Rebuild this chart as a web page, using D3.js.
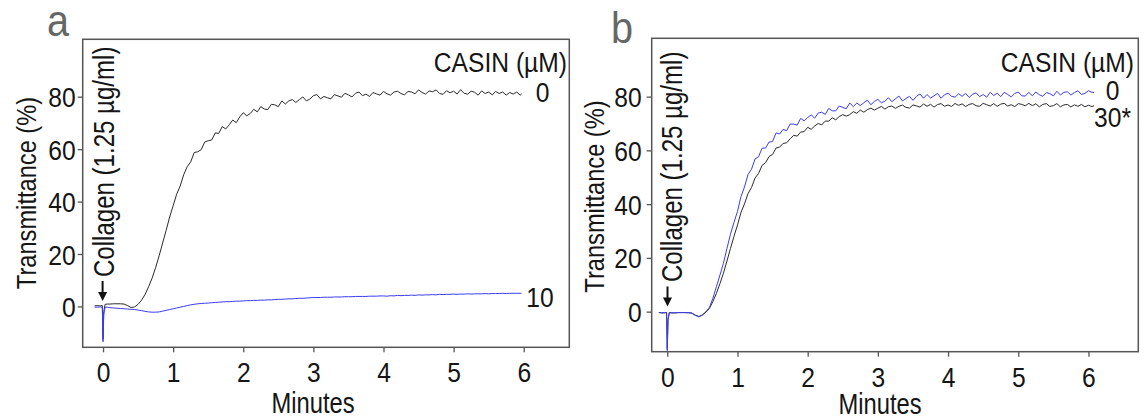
<!DOCTYPE html>
<html><head><meta charset="utf-8">
<script src="https://cdn.jsdelivr.net/npm/d3@7/dist/d3.min.js"></script>
<style>
html,body{margin:0;padding:0;background:#fff;}
svg text{font-family:"Liberation Sans Narrow","Arial Narrow","Liberation Sans",Arial,sans-serif;fill:#151515;}
</style></head>
<body><svg id="chart" width="1146" height="420"></svg>
<script>
// ---------- DATA ----------
const xTicks = [0, 1, 2, 3, 4, 5, 6];
const yTicks = [0, 20, 40, 60, 80];
const panelLabels = ["a", "b"];
const legendTitle = "CASIN (\u00B5M)";
const collagenLabel = "Collagen (1.25 \u00B5g/ml)";
const xTitle = "Minutes";
const yTitle = "Transmittance (%)";

// Panel a: sample times (minutes)
const minutesA = [
  -0.12,-0.08,-0.04,-0.01,0,0.01,0.03,0.06,0.1,0.15,
  0.2,0.25,0.3,0.35,0.4,0.45,0.5,0.55,0.6,0.65,
  0.7,0.75,0.8,0.85,0.9,0.95,1.0,1.05,1.1,1.15,
  1.2,1.25,1.3,1.35,1.4,1.45,1.5,1.55,1.6,1.65,
  1.7,1.75,1.8,1.85,1.9,1.95,2.0,2.05,2.1,2.15,
  2.2,2.25,2.3,2.35,2.4,2.45,2.5,2.55,2.6,2.65,
  2.7,2.75,2.8,2.85,2.9,2.95,3.0,3.05,3.1,3.15,
  3.2,3.25,3.3,3.35,3.4,3.45,3.5,3.55,3.6,3.65,
  3.7,3.75,3.8,3.85,3.9,3.95,4.0,4.05,4.1,4.15,
  4.2,4.25,4.3,4.35,4.4,4.45,4.5,4.55,4.6,4.65,
  4.7,4.75,4.8,4.85,4.9,4.95,5.0,5.05,5.1,5.15,
  5.2,5.25,5.3,5.35,5.4,5.45,5.5,5.55,5.6,5.65,
  5.7,5.75,5.8,5.85,5.9,5.95,5.97
];
// CASIN 0 µM (black)
const casin0A = [
  0.2,0.3,0.2,0.3,-12.5,-2,0.8,0.9,0.9,1.0,
  1.0,1.0,0.9,0.3,-0.4,-0.2,0.8,2.4,4.6,7.5,
  10.8,14.8,19.3,24.2,29.0,34.1,38.4,42.8,45.9,50.2,
  53.3,55.1,58.7,59.0,59.8,62.7,63.2,63.5,66.2,66.0,
  68.6,67.7,69.3,71.1,70.1,72.3,73.9,72.7,73.6,75.2,
  74.2,76.2,75.3,75.1,77.1,76.9,76.2,78.4,77.2,78.4,
  78.9,77.8,78.9,79.9,78.4,79.1,80.4,80.8,79.2,80.1,
  79.6,79.2,80.8,80.3,79.8,81.3,80.7,79.9,81.3,81.8,
  80.4,81.0,80.1,81.6,81.1,80.6,82.0,81.1,80.6,81.8,
  82.1,81.2,80.7,82.0,81.8,81.1,82.6,81.6,81.0,82.2,
  81.9,82.6,81.2,80.9,82.3,81.5,82.1,81.0,82.7,81.3,
  81.0,82.1,81.7,80.6,82.2,81.2,81.8,80.7,82.0,81.2,
  81.8,80.6,81.6,81.0,81.8,80.6,81.1
];
// CASIN 10 µM (blue)
const casin10A = [
  -0.3,-0.3,-0.2,-0.3,-13.5,-3,-0.3,-0.3,-0.5,-0.6,
  -0.7,-0.8,-0.9,-1.0,-1.1,-1.2,-1.4,-1.6,-1.9,-2.1,
  -2.2,-2.2,-2.1,-1.8,-1.5,-1.2,-0.9,-0.6,-0.3,0.0,
  0.3,0.6,0.8,1.0,1.1,1.2,1.3,1.4,1.5,1.6,
  1.7,1.8,1.8,1.9,2.0,2.0,2.1,2.2,2.2,2.3,
  2.3,2.4,2.4,2.5,2.5,2.6,2.7,2.7,2.8,2.9,
  2.9,3.0,3.1,3.1,3.2,3.3,3.4,3.4,3.4,3.5,
  3.5,3.5,3.6,3.6,3.6,3.7,3.7,3.7,3.8,3.8,
  3.8,3.8,3.9,3.9,3.9,4.0,4.0,3.9,4.1,4.0,
  4.2,4.1,4.2,4.2,4.3,4.2,4.4,4.3,4.4,4.4,
  4.5,4.4,4.6,4.5,4.6,4.6,4.7,4.6,4.7,4.7,
  4.8,4.7,4.8,4.8,4.8,4.9,4.8,4.9,4.9,4.9,
  5.0,4.9,5.0,5.0,5.0,5.0,5.0
];

// Panel b: sample times (minutes)
const minutesB = [
  -0.12,-0.08,-0.04,-0.01,0,0.01,0.03,0.06,0.1,0.15,
  0.2,0.25,0.3,0.35,0.4,0.45,0.5,0.55,0.6,0.65,
  0.7,0.75,0.8,0.85,0.9,0.95,1.0,1.05,1.1,1.15,
  1.2,1.25,1.3,1.35,1.4,1.45,1.5,1.55,1.6,1.65,
  1.7,1.75,1.8,1.85,1.9,1.95,2.0,2.05,2.1,2.15,
  2.2,2.25,2.3,2.35,2.4,2.45,2.5,2.55,2.6,2.65,
  2.7,2.75,2.8,2.85,2.9,2.95,3.0,3.05,3.1,3.15,
  3.2,3.25,3.3,3.35,3.4,3.45,3.5,3.55,3.6,3.65,
  3.7,3.75,3.8,3.85,3.9,3.95,4.0,4.05,4.1,4.15,
  4.2,4.25,4.3,4.35,4.4,4.45,4.5,4.55,4.6,4.65,
  4.7,4.75,4.8,4.85,4.9,4.95,5.0,5.05,5.1,5.15,
  5.2,5.25,5.3,5.35,5.4,5.45,5.5,5.55,5.6,5.65,
  5.7,5.75,5.8,5.85,5.9,5.95,6.0,6.05,6.08
];
// CASIN 0 µM (blue)
const casin0B = [
  -0.3,-0.5,-0.3,-0.4,-14.5,-3,-0.4,-0.5,-0.4,-0.3,
  -0.4,-0.3,-0.4,-0.6,-1.4,-1.9,-1.3,0.0,1.5,5.0,
  9.3,13.6,18.0,23.5,28.8,33.2,37.3,42.8,46.4,51.0,
  53.0,56.8,57.6,60.8,60.9,63.1,63.3,66.5,66.1,67.8,
  67.3,69.8,69.8,69.4,71.9,71.0,72.2,73.2,72.0,73.9,
  74.2,73.4,75.6,74.7,74.7,76.5,76.0,75.5,77.6,76.3,
  77.6,76.7,77.7,78.7,77.0,78.2,79.0,77.7,78.3,79.6,
  78.1,79.2,80.2,78.4,79.3,80.1,78.6,80.1,81.0,79.4,
  80.8,79.5,80.3,81.2,79.4,80.7,81.3,80.1,79.8,81.1,
  80.1,81.2,79.7,80.9,81.4,80.0,80.8,79.8,81.6,80.4,
  81.3,80.0,81.6,80.8,79.9,81.2,81.7,80.3,80.2,81.6,
  80.3,81.7,80.7,80.1,81.5,81.1,80.3,82.0,80.6,81.6,
  81.8,80.6,81.5,82.2,80.8,81.2,82.2,81.6,81.5
];
// CASIN 30 µM (black)
const casin30B = [
  -0.3,-0.4,-0.5,-0.3,-14.0,-3,-0.3,-0.4,-0.5,-0.4,
  -0.3,-0.4,-0.4,-0.5,-1.3,-1.8,-1.2,-0.2,1.2,3.8,
  6.8,10.4,14.3,18.8,23.5,28.0,32.2,36.9,40.1,43.9,
  46.2,49.7,51.4,54.4,55.4,57.7,58.5,60.9,61.2,62.6,
  62.8,64.3,65.6,65.3,66.8,67.0,68.6,67.85,69.1,70.0,
  69.5,70.9,70.9,72.1,71.4,72.6,73.3,72.75,73.3,74.4,
  73.8,75.0,74.2,75.15,75.7,75.0,75.7,76.35,75.35,76.25,
  76.5,75.65,76.4,76.85,76.0,75.75,76.9,76.55,76.1,77.25,
  76.4,77.15,76.1,77.05,77.4,76.4,76.9,76.35,77.45,76.75,
  77.3,76.3,77.1,77.4,76.6,76.4,77.5,77.0,76.5,77.4,
  76.4,77.2,77.5,76.5,77.0,76.3,77.4,77.1,76.6,77.5,
  76.65,77.35,76.2,77.1,77.4,76.35,76.65,77.4,76.2,76.9,
  77.1,76.15,76.95,76.4,77.1,76.2,76.8,76.3,76.6
];

// ---------- LAYOUT ----------
const BLACK = "#2a2a2a", BLUE = "#3b3bf5", FRAME = "#555";
const SX = 0.85;      // horizontal condensing of the sans font
const SX_NUM = 0.88;
const panels = [
  {
    label: panelLabels[0], labelPos: [47, 36],
    xDom: [-0.29, 6.65], xRng: [82.7, 569.3],
    yDom: [-15.6, 101.9], yRng: [347.3, 39.3],
    yLabPad: 2, xLabY: 34.5,
    yTitlePos: [35.5, 193], xTitlePos: [313, 413],
    legendPos: [567, 71.5],
    collagen: { x: 113.5, y: 277, arrowX: 102.6, arrowTop: 281, arrowTip: 301 },
    series: [
      { t: minutesA, v: casin0A, color: BLACK, name: "0", lab: [542.5, 101.5, "middle"] },
      { t: minutesA, v: casin10A, color: BLUE, name: "10", lab: [540, 306.5, "middle"] }
    ]
  },
  {
    label: panelLabels[1], labelPos: [611, 43],
    xDom: [-0.222, 6.71], xRng: [651.7, 1138.3],
    yDom: [-14.9, 101.7], yRng: [351.7, 38.3],
    yLabPad: 5, xLabY: 35,
    yTitlePos: [604, 196.5], xTitlePos: [880, 414],
    legendPos: [1134, 71.5],
    collagen: { x: 681.5, y: 282, arrowX: 667.5, arrowTop: 286.5, arrowTip: 306.5 },
    series: [
      { t: minutesB, v: casin30B, color: BLACK, name: "30*", lab: [1094, 126.5, "start"] },
      { t: minutesB, v: casin0B, color: BLUE, name: "0", lab: [1112.5, 100, "middle"] }
    ]
  }
];

const svg = d3.select("#chart");
const FS = 28;

function ctext(g, x, y, str, o = {}) {
  const rot = o.rotate ? ` rotate(${o.rotate})` : "";
  return g.append("text")
    .attr("transform", `translate(${x},${y})${rot} scale(${o.sx || SX},1)`)
    .attr("text-anchor", o.anchor || "start")
    .style("font-size", (o.size || FS) + "px")
    .style("fill", o.fill || "#151515")
    .text(str);
}

panels.forEach((p, pi) => {
  const x = d3.scaleLinear().domain(p.xDom).range(p.xRng);
  const y = d3.scaleLinear().domain(p.yDom).range(p.yRng);
  const g = svg.append("g");

  const clipId = "clip" + pi;
  svg.append("clipPath").attr("id", clipId).append("rect")
    .attr("x", p.xRng[0]).attr("y", p.yRng[1])
    .attr("width", p.xRng[1] - p.xRng[0]).attr("height", p.yRng[0] - p.yRng[1]);

  // x axis
  const xa = g.append("g").attr("transform", `translate(0,${p.yRng[0]})`)
    .call(d3.axisBottom(x).tickValues(xTicks).tickSize(5).tickFormat(d3.format("d")));
  xa.select(".domain").remove();
  xa.selectAll("line").attr("stroke", FRAME).attr("stroke-width", 1.3);
  xa.selectAll("text").attr("x", 0).attr("y", null).attr("dy", null)
    .attr("transform", `translate(0,${p.xLabY}) scale(${SX_NUM},1)`)
    .style("font-size", FS + "px").attr("fill", "#151515");

  // y axis
  const ya = g.append("g").attr("transform", `translate(${p.xRng[0]},0)`)
    .call(d3.axisLeft(y).tickValues(yTicks).tickSize(5).tickFormat(d3.format("d")));
  ya.select(".domain").remove();
  ya.selectAll("line").attr("stroke", FRAME).attr("stroke-width", 1.3);
  ya.selectAll("text").attr("x", null).attr("dy", "0.36em")
    .attr("transform", `translate(${-(5 + p.yLabPad)},0) scale(${SX_NUM},1)`)
    .style("font-size", FS + "px").attr("fill", "#151515");

  // lines
  const line = d3.line().x(d => x(d[0])).y(d => y(d[1]));
  const lg = g.append("g").attr("clip-path", `url(#${clipId})`);
  p.series.forEach(s => {
    const pts = s.t.map((t, i) => [t, s.v[i]]).filter(d => d[1] !== undefined);
    lg.append("path").datum(pts).attr("d", line)
      .attr("fill", "none").attr("stroke", s.color).attr("stroke-width", 1)
      .attr("stroke-linejoin", "round");
  });

  // frame
  g.append("rect")
    .attr("x", p.xRng[0]).attr("y", p.yRng[1])
    .attr("width", p.xRng[1] - p.xRng[0]).attr("height", p.yRng[0] - p.yRng[1])
    .attr("fill", "none").attr("stroke", FRAME).attr("stroke-width", 1.5);

  // series labels
  p.series.forEach(s => {
    ctext(g, s.lab[0], s.lab[1], s.name, { anchor: s.lab[2], sx: SX_NUM });
  });

  // legend title
  ctext(g, p.legendPos[0], p.legendPos[1], legendTitle, { anchor: "end", sx: 0.88 });

  // collagen annotation
  ctext(g, p.collagen.x, p.collagen.y, collagenLabel, { rotate: -90, size: 29, sx: 0.83 });
  const ax = p.collagen.arrowX;
  g.append("line").attr("x1", ax).attr("x2", ax)
    .attr("y1", p.collagen.arrowTop).attr("y2", p.collagen.arrowTip - 7)
    .attr("stroke", "#111").attr("stroke-width", 2);
  g.append("path")
    .attr("d", `M${ax - 4.5},${p.collagen.arrowTip - 9} L${ax + 4.5},${p.collagen.arrowTip - 9} L${ax},${p.collagen.arrowTip} Z`)
    .attr("fill", "#111");

  // axis titles
  ctext(g, p.yTitlePos[0], p.yTitlePos[1], yTitle, { rotate: -90, anchor: "middle", sx: 0.845 });
  ctext(g, p.xTitlePos[0], p.xTitlePos[1], xTitle, { anchor: "middle", size: 29, sx: 0.82 });

  // panel letter
  ctext(g, p.labelPos[0], p.labelPos[1], p.label, { size: 44, fill: "#666", sx: 0.9 });
});
</script>
</body></html>
